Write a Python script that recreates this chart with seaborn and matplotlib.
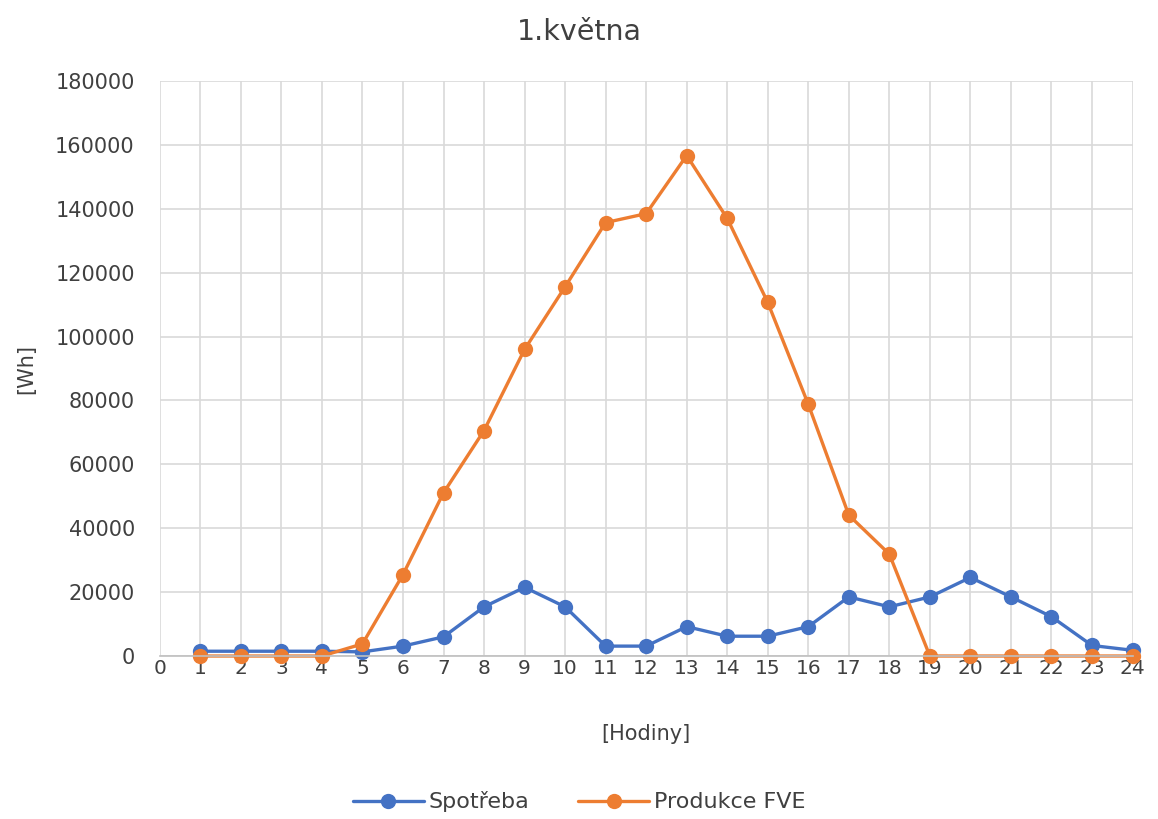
import matplotlib
matplotlib.use("Agg")
import matplotlib.pyplot as plt
import seaborn as sns
import pandas as pd

hours = list(range(1, 25))
spotreba = [1500, 1500, 1500, 1500, 1300, 3100, 6000, 15400, 21500, 15400, 3100, 3100,
            9200, 6200, 6200, 9200, 18500, 15400, 18500, 24600, 18500, 12300, 3300, 1800]
produkce = [0, 0, 0, 0, 3800, 25500, 51100, 70600, 96000, 115600, 135700, 138500,
            156700, 137000, 110700, 78800, 44100, 31900, 0, 0, 0, 0, 0, 0]
series_names = ["Spotřeba", "Produkce FVE"]
colors = ["#4472C4", "#ED7D31"]
x_ticks = list(range(0, 25))
y_ticks = list(range(0, 180001, 20000))

df = pd.concat([
    pd.DataFrame({"Hodina": hours, "Wh": spotreba, "Série": series_names[0]}),
    pd.DataFrame({"Hodina": hours, "Wh": produkce, "Série": series_names[1]}),
])

sns.set_theme(style="white")
plt.rcParams["font.family"] = ["DejaVu Sans"]

fig = plt.figure(figsize=(11.58, 8.19), dpi=100)
ax = fig.add_axes([0.138, 0.199, 0.840, 0.702])

sns.lineplot(data=df, x="Hodina", y="Wh", hue="Série", palette=colors,
             marker="o", markersize=11, markeredgewidth=0, linewidth=2.4,
             ax=ax, legend=True)
for ln in ax.lines:
    ln.set_clip_on(False)

ax.set_xlim(0, 24)
ax.set_ylim(0, 180000)
ax.set_xticks(x_ticks)
ax.set_yticks(y_ticks)
ax.set_xticklabels([str(t) for t in x_ticks])
ax.set_yticklabels([str(t) for t in y_ticks])
ax.grid(True, color="#d9d9d9", linewidth=1.2)
ax.set_axisbelow(True)
for s in ["top", "right", "left"]:
    ax.spines[s].set_visible(False)
ax.spines["bottom"].set_color("#bfbfbf")
ax.spines["bottom"].set_linewidth(1.2)
ax.tick_params(axis="both", length=0, labelsize=15, colors="#404040")
ax.tick_params(axis="x", pad=2, labelsize=14.5)
ax.tick_params(axis="y", pad=18)

ax.set_xlabel("[Hodiny]", fontsize=15, color="#404040")
ax.set_ylabel("[Wh]", fontsize=15, color="#404040")
ax.xaxis.set_label_coords(0.5, -0.118)
ax.yaxis.set_label_coords(-0.127, 0.5)
fig.suptitle("1.května", fontsize=20.5, color="#404040", x=0.5, y=0.978, va="top")

handles, labels = ax.get_legend_handles_labels()
ax.legend().remove()
fig.legend(handles, labels, loc="center", bbox_to_anchor=(0.5, 1 - 802 / 819),
           ncol=2, frameon=False, fontsize=16, labelcolor="#404040",
           handlelength=3.2, columnspacing=2.2, handletextpad=0.2)

fig.savefig("out.png", dpi=100)
